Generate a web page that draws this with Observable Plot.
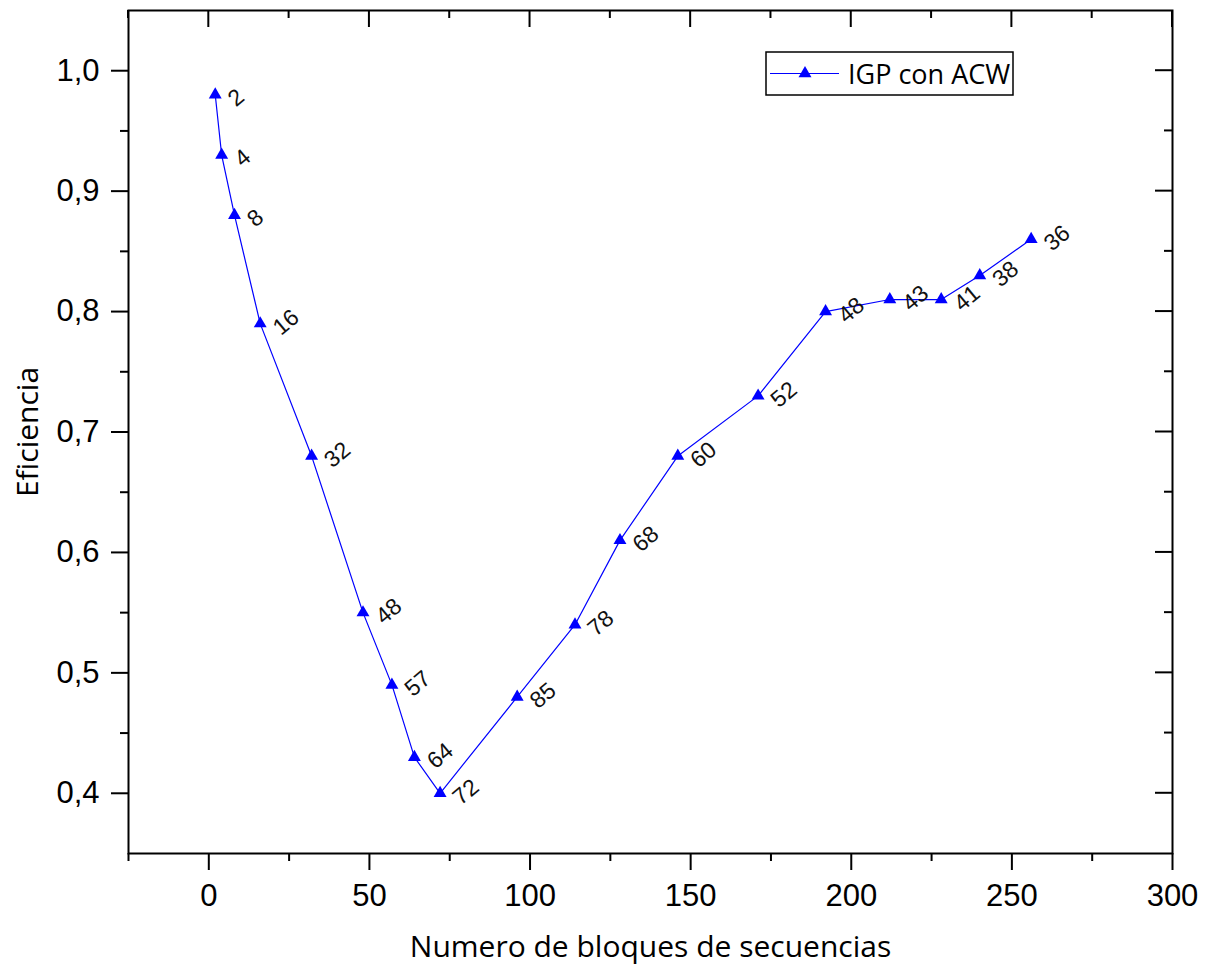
<!DOCTYPE html>
<html><head><meta charset="utf-8">
<script src="https://cdn.jsdelivr.net/npm/d3@7"></script>
<script src="https://cdn.jsdelivr.net/npm/@observablehq/plot@0.6"></script>
<style>body{margin:0;background:#fff} #chart{width:1210px;height:970px}</style>
</head><body><div id="chart"></div>
<script>
const xValues = [2,4,8,16,32,48,57,64,72,96,114,128,146,171,192,212,228,240,256];
const yValues = [0.98,0.93,0.88,0.79,0.68,0.55,0.49,0.43,0.40,0.48,0.54,0.61,0.68,0.73,0.80,0.81,0.81,0.83,0.86];
const pointLabels = ["2","4","8","16","32","48","57","64","72","85","78","68","60","52","48","43","41","38","36"];
const xMajorTicks = [0,50,100,150,200,250,300];
const xMinorTicks = [-25,25,75,125,175,225,275];
const yMajorTicks = [0.4,0.5,0.6,0.7,0.8,0.9,1.0];
const yTickLabels = ["0,4","0,5","0,6","0,7","0,8","0,9","1,0"];
const yMinorTicks = [0.45,0.55,0.65,0.75,0.85,0.95];
const seriesName = "IGP con ACW";
const xTitle = "Numero de bloques de secuencias";
const yTitle = "Eficiencia";

const data = xValues.map((x, i) => ({x, y: yValues[i], label: pointLabels[i]}));
const BLUE = "#0000ff";
const tickFont = "Liberation Sans, Arial, sans-serif";
const titleFont = "Open Sans, sans-serif";

// inward ticks on the top and right edges, placed through Plot's own scales
function mirrorTicks(index, scales, values, dimensions) {
  const g = d3.create("svg:g").attr("stroke", "black").attr("stroke-width", 2);
  const top = dimensions.marginTop;
  const right = dimensions.width - dimensions.marginRight;
  const addX = (vals, len) => vals.forEach(v => {
    const px = scales.x(v);
    g.append("line").attr("x1", px).attr("x2", px).attr("y1", top).attr("y2", top + len);
  });
  const addY = (vals, len) => vals.forEach(v => {
    const py = scales.y(v);
    g.append("line").attr("y1", py).attr("y2", py).attr("x1", right).attr("x2", right - len);
  });
  addX(xMajorTicks, 17); addX(xMinorTicks, 8);
  addY(yMajorTicks, 17); addY(yMinorTicks, 8);
  return g.node();
}

function legendMark(index, scales, values, dimensions) {
  const g = d3.create("svg:g");
  const x0 = 766, y0 = 52, w = 247, h = 43, cy = y0 + h / 2;
  g.append("rect").attr("x", x0).attr("y", y0).attr("width", w).attr("height", h)
    .attr("fill", "white").attr("stroke", "black").attr("stroke-width", 1.5);
  g.append("line").attr("x1", x0 + 4).attr("x2", x0 + 73).attr("y1", cy).attr("y2", cy)
    .attr("stroke", BLUE).attr("stroke-width", 1.2);
  g.append("path").attr("d", d3.symbol(d3.symbolTriangle, 73)())
    .attr("transform", `translate(${x0 + 39},${cy})`).attr("fill", BLUE);
  g.append("text").attr("x", x0 + 82).attr("y", cy + 10)
    .attr("text-anchor", "start")
    .attr("font-family", titleFont).attr("font-size", 27).attr("fill", "black")
    .text(seriesName);
  return g.node();
}

const chart = Plot.plot({
  width: 1210,
  height: 970,
  marginLeft: 128,
  marginRight: 38,
  marginTop: 10,
  marginBottom: 117,
  x: {domain: [-25, 300], label: null},
  y: {domain: [0.35, 1.05], label: null},
  style: {background: "white", color: "black", fontFamily: tickFont},
  marks: [
    Plot.line(data, {x: "x", y: "y", stroke: BLUE, strokeWidth: 1.2}),
    Plot.dot(data, {x: "x", y: "y", symbol: "triangle", r: 4.8, fill: BLUE, stroke: "none"}),
    Plot.text(data, {x: "x", y: "y", text: "label", rotate: -40, textAnchor: "start",
      dx: 16, dy: 7, fontSize: 23, fontFamily: tickFont, fill: "#111"}),
    // bottom axis
    Plot.axisX({ticks: xMajorTicks, anchor: "bottom", tickSize: 17, tickPadding: 13, strokeWidth: 2,
      fontSize: 31, fontFamily: tickFont, tickFormat: d => String(d), label: null}),
    Plot.axisX({ticks: xMinorTicks, anchor: "bottom", tickSize: 8, strokeWidth: 2,
      tickFormat: () => "", label: null}),
    // left axis
    Plot.axisY({ticks: yMajorTicks, anchor: "left", tickSize: 17, tickPadding: 12, strokeWidth: 2,
      fontSize: 31, fontFamily: tickFont, tickFormat: d => yTickLabels[yMajorTicks.indexOf(d)], label: null}),
    Plot.axisY({ticks: yMinorTicks, anchor: "left", tickSize: 8, strokeWidth: 2,
      tickFormat: () => "", label: null}),
    mirrorTicks,
    Plot.frame({stroke: "black", strokeWidth: 2}),
    Plot.text([xTitle], {text: d => d, frameAnchor: "bottom", textAnchor: "middle", lineAnchor: "middle",
      dy: 94, fontSize: 30, fontFamily: titleFont, fill: "black"}),
    Plot.text([yTitle], {text: d => d, frameAnchor: "left", textAnchor: "middle", lineAnchor: "middle",
      dx: -100, rotate: -90, fontSize: 30, fontFamily: titleFont, fill: "black"}),
    legendMark
  ]
});
document.getElementById("chart").appendChild(chart);
</script>
</body></html>
